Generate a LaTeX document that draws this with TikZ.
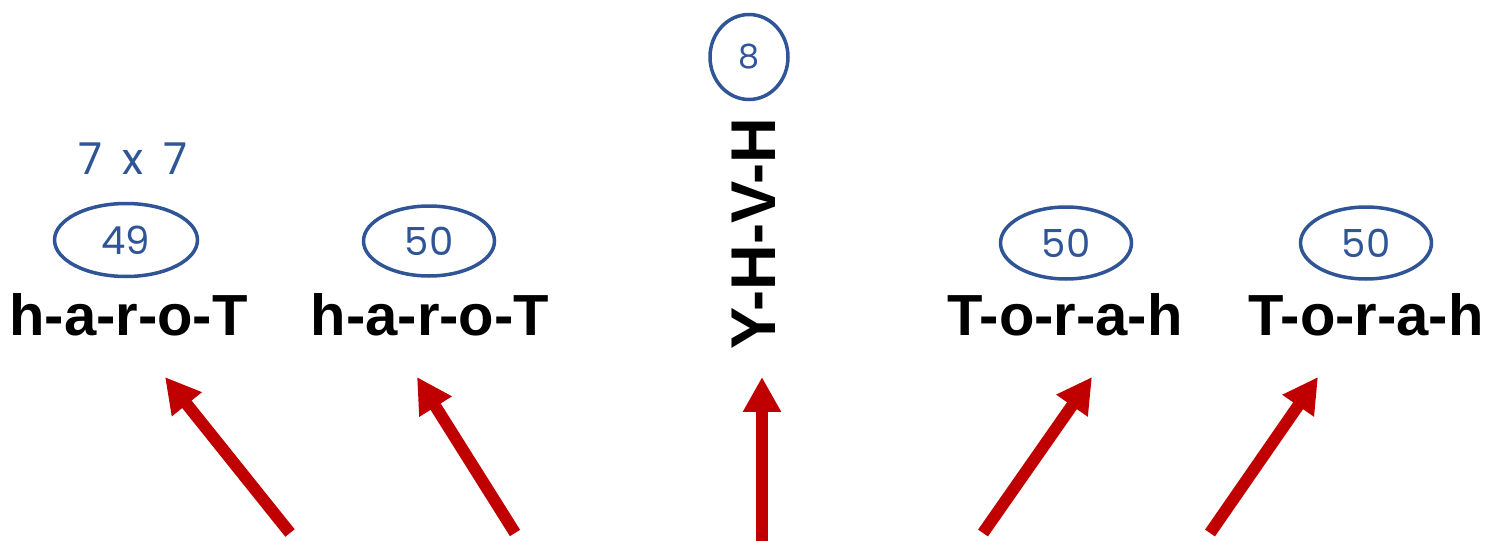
\documentclass[tikz,border=0pt]{standalone}
\usepackage{fontspec}
\setmainfont{Liberation Sans}
\newfontfamily\hand{Poppins}
\usetikzlibrary{arrows.meta,shapes.geometric}
\definecolor{hblue}{RGB}{47,85,151}
\definecolor{ared}{RGB}{192,0,0}
\begin{document}
\begin{tikzpicture}[x=0.02cm,y=-0.02cm,
  word/.style={font=\fontsize{33}{36}\selectfont\bfseries, inner sep=0pt, anchor=base},
  oval/.style={draw=hblue, line width=2pt, ellipse, inner sep=0pt, text=hblue,
    font=\hand\fontsize{22}{24}\selectfont},
  redarrow/.style={draw=ared, line width=0.24cm, -{Triangle[width=0.72cm,length=0.7cm]}}]
\useasboundingbox (0,0) rectangle (1492,541);
% words
\node[word] (w1) at (128.5,335) {h-a-r-o-T};
\node[word] (w2) at (430,335) {h-a-r-o-T};
\node[word] (w4) at (1065,335) {T-o-r-a-h};
\node[word] (w5) at (1366,335) {T-o-r-a-h};
\node[font=\fontsize{36}{38}\selectfont\bfseries, inner sep=0pt, rotate=90] (w3) at (754,234) {Y-H-V-H};
% ovals
\node[oval, minimum width=2.86cm, minimum height=1.46cm] (e1) at (126,240) {49};
\node[oval, minimum width=2.62cm, minimum height=1.40cm] (e2) at (429,241) {50};
\node[oval, minimum width=1.56cm, minimum height=1.70cm, font=\hand\fontsize{19}{20}\selectfont] (e3) at (749,57) {8};
\node[oval, minimum width=2.62cm, minimum height=1.44cm] (e4) at (1066,243) {50};
\node[oval, minimum width=2.62cm, minimum height=1.44cm] (e5) at (1366,243) {50};
\node[text=hblue, font=\hand\fontsize{25}{26}\selectfont, inner sep=0pt] (m) at (133,159) {7\hspace{0.45em}x\hspace{0.45em}7};
% arrows
\coordinate (t1) at (290,533); \coordinate (h1) at (165,377);
\coordinate (t2) at (515,533); \coordinate (h2) at (417,377);
\coordinate (t3) at (762,541); \coordinate (h3) at (762,377);
\coordinate (t4) at (983,533); \coordinate (h4) at (1092,377);
\coordinate (t5) at (1210,533); \coordinate (h5) at (1318,377);
\foreach \i in {1,...,5} {\draw[redarrow] (t\i) -- (h\i);}
\end{tikzpicture}
\end{document}
